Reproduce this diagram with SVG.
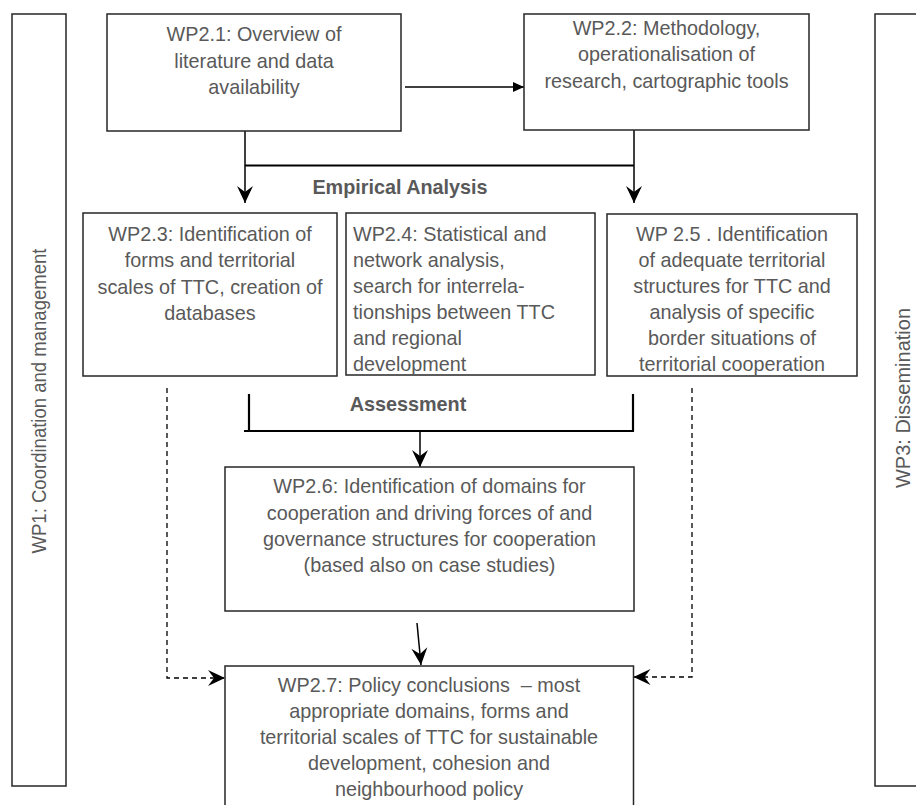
<svg xmlns="http://www.w3.org/2000/svg" width="916" height="805" viewBox="0 0 916 805">
  <style>
    .box { fill: #fff; stroke: #262626; stroke-width: 1.5; }
    .t { font-family: "Liberation Sans", Arial, sans-serif; font-size: 19.8px; fill: #595959; text-anchor: middle; }
    .left { text-anchor: start; }
    .bold { font-weight: bold; }
    .ln { fill: none; stroke: #000; stroke-width: 1.5; }
    .thick { stroke-width: 2.2; }
    .dash { stroke-width: 1.3; stroke-dasharray: 5 4; }
  </style>
  <defs>
    <!-- notched arrowhead used on the flow connectors -->
    <marker id="stealth" viewBox="-18 -9 19 18" refX="0" refY="0" markerWidth="19" markerHeight="18" markerUnits="userSpaceOnUse" orient="auto">
      <path d="M0,0 L-17,-8 L-11,0 L-17,8 Z" fill="#000"/>
    </marker>
    <!-- small solid triangle -->
    <marker id="tri" viewBox="-12 -6 13 12" refX="0" refY="0" markerWidth="13" markerHeight="12" markerUnits="userSpaceOnUse" orient="auto">
      <path d="M0,0 L-11,-5 L-11,5 Z" fill="#000"/>
    </marker>
  </defs>

  <rect width="916" height="805" fill="#fff"/>

  <!-- side work packages -->
  <g id="wp1">
    <rect class="box" x="12" y="14" width="54" height="772"/>
    <text class="t" transform="translate(46,401) rotate(-90)" textLength="305" lengthAdjust="spacingAndGlyphs">WP1: Coordination and management</text>
  </g>
  <g id="wp3">
    <rect class="box" x="875" y="14" width="60" height="772"/>
    <text class="t" transform="translate(910,398) rotate(-90)" textLength="180" lengthAdjust="spacingAndGlyphs">WP3: Dissemination</text>
  </g>

  <!-- connectors -->
  <g id="connectors">
    <path class="ln" d="M405,87 H524" marker-end="url(#tri)"/>
    <path class="ln" d="M245,131 V203" marker-end="url(#stealth)"/>
    <path class="ln" d="M634,130 V203" marker-end="url(#stealth)"/>
    <path class="ln thick" d="M245,165.5 H634"/>
    <path class="ln thick" d="M249,394 V431 M244,431 H634 M633,394 V431"/>
    <path class="ln" d="M420,431 V467" marker-end="url(#stealth)"/>
    <path class="ln" d="M417,623 L421,665" marker-end="url(#stealth)"/>
    <path class="ln dash" d="M167,388 V678 H225" marker-end="url(#stealth)"/>
    <path class="ln dash" d="M692,388 V677 H633.5" marker-end="url(#stealth)"/>
    <text class="t bold" x="400" y="194">Empirical Analysis</text>
    <text class="t bold" x="408" y="411">Assessment</text>
  </g>

  <g id="wp2_1">
    <rect class="box" x="107" y="14" width="294" height="117"/>
    <text class="t" x="254" y="41">WP2.1: Overview of</text>
    <text class="t" x="254" y="67.5">literature and data</text>
    <text class="t" x="254" y="94">availability</text>
  </g>
  <g id="wp2_2">
    <rect class="box" x="524" y="14" width="285" height="116"/>
    <text class="t" x="666.5" y="34.5">WP2.2: Methodology,</text>
    <text class="t" x="666.5" y="61">operationalisation of</text>
    <text class="t" x="666.5" y="87.5">research, cartographic tools</text>
  </g>
  <g id="wp2_3">
    <rect class="box" x="83" y="213" width="254" height="163"/>
    <text class="t" x="210" y="240.5">WP2.3: Identification of</text>
    <text class="t" x="210" y="267">forms and territorial</text>
    <text class="t" x="210" y="293.5">scales of TTC, creation of</text>
    <text class="t" x="210" y="320">databases</text>
  </g>
  <g id="wp2_4">
    <rect class="box" x="346" y="213" width="249" height="162"/>
    <text class="t left" x="353" y="240.5">WP2.4: Statistical and</text>
    <text class="t left" x="353" y="266.5">network analysis,</text>
    <text class="t left" x="353" y="292.5">search for interrela-</text>
    <text class="t left" x="353" y="318.5">tionships between TTC</text>
    <text class="t left" x="353" y="344.5">and regional</text>
    <text class="t left" x="353" y="370.5">development</text>
  </g>
  <g id="wp2_5">
    <rect class="box" x="607" y="214" width="250" height="162"/>
    <text class="t" x="732" y="240.5">WP 2.5 . Identification</text>
    <text class="t" x="732" y="266.5">of adequate territorial</text>
    <text class="t" x="732" y="292.5">structures for TTC and</text>
    <text class="t" x="732" y="318.5">analysis of specific</text>
    <text class="t" x="732" y="344.5">border situations of</text>
    <text class="t" x="732" y="370.5">territorial cooperation</text>
  </g>
  <g id="wp2_6">
    <rect class="box" x="225" y="467" width="409" height="144"/>
    <text class="t" x="429.5" y="493">WP2.6: Identification of domains for</text>
    <text class="t" x="429.5" y="519.5">cooperation and driving forces of and</text>
    <text class="t" x="429.5" y="546">governance structures for cooperation</text>
    <text class="t" x="429.5" y="572">(based also on case studies)</text>
  </g>
  <g id="wp2_7">
    <rect class="box" x="225" y="666" width="408.5" height="160"/>
    <text class="t" x="429" y="692" xml:space="preserve">WP2.7: Policy conclusions  – most</text>
    <text class="t" x="429" y="718">appropriate domains, forms and</text>
    <text class="t" x="429" y="744">territorial scales of TTC for sustainable</text>
    <text class="t" x="429" y="770">development, cohesion and</text>
    <text class="t" x="429" y="796">neighbourhood policy</text>
  </g>
</svg>
